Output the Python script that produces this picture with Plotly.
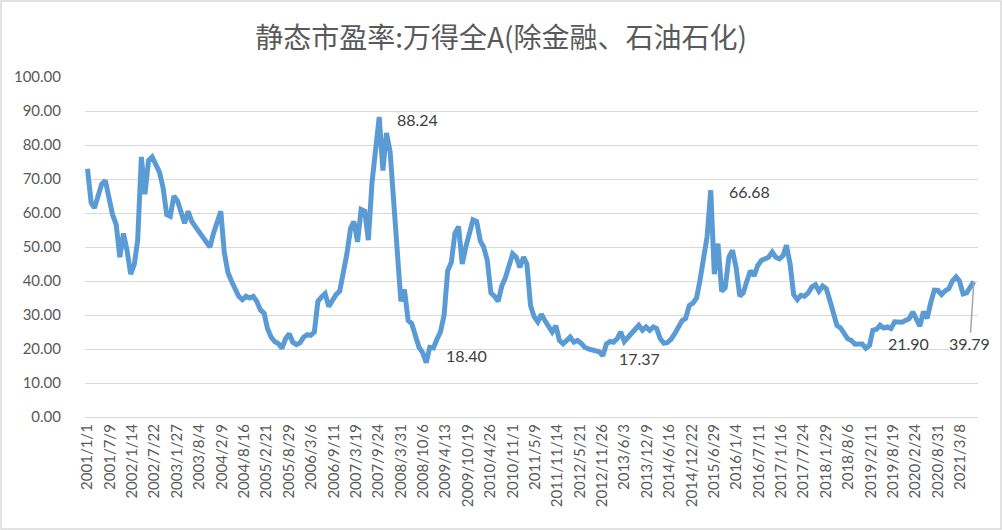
import pandas as pd
import plotly.graph_objects as go

title = "静态市盈率:万得全A(除金融、石油石化)"

# monthly readings of the weekly PE line (first of each month)
pe_2001 = [73, 63, 61.5, 65, 68.5, 69.5, 65, 59.5, 56.5, 47, 54, 49]
pe_2002 = [42, 45, 52, 76.5, 65.5, 75.5, 76.5, 74.5, 72, 67.5, 59.5, 59]
pe_2003 = [65, 63.5, 60, 57, 60.5, 57.5, 56, 54.5, 53.5, 52, 50, 54]
pe_2004 = [57.5, 60.5, 48.5, 42.5, 40, 37.5, 35.5, 34.5, 35.5, 35, 35.5, 34]
pe_2005 = [31.5, 30.5, 26, 23.5, 22.2, 21.6, 20.2, 23, 24.5, 22, 21.3, 21.8]
pe_2006 = [23.5, 24.2, 24, 25, 34, 35.3, 36.3, 32.5, 34.5, 36, 37, 42]
pe_2007 = [48, 55.5, 57.5, 51.5, 61, 60.5, 52, 69, 80, 88.24, 72.5, 83.5]
pe_2008 = [78, 63.5, 52, 34, 37.5, 28.4, 27.5, 24.5, 20.5, 19, 16, 20.5]
pe_2009 = [20.3, 23, 25, 30, 43, 45.5, 54, 56, 45, 50, 54, 58]
pe_2010 = [57.5, 51.7, 50, 46, 36.5, 35.5, 34, 38.5, 41, 44.5, 48, 47]
pe_2011 = [44, 47, 45, 32.8, 29.5, 28, 30.2, 28.3, 26.3, 25, 26.8, 22.5]
pe_2012 = [21.5, 22.5, 23.5, 22, 22.5, 21.7, 20.5, 20, 19.7, 19.6, 19.2, 18]
pe_2013 = [21.5, 22.2, 22, 23, 25, 22.2, 23.5, 25, 25.8, 27, 25.5, 26.5]
pe_2014 = [25.5, 26.5, 26, 23, 21.7, 21.9, 22.9, 24.5, 26.5, 28.3, 29, 32.8]
pe_2015 = [33.5, 35, 40, 48, 53, 66.68, 42, 51, 37, 38, 47, 49]
pe_2016 = [44, 35.5, 36.5, 40, 43, 41.5, 44.5, 46, 46.5, 47, 48.5, 47]
pe_2017 = [46.5, 47.5, 50.5, 45, 36, 34.5, 35.8, 35.5, 36.5, 38.2, 38.9, 37]
pe_2018 = [38.5, 37.7, 34.5, 30, 27, 26.2, 24.5, 23, 22.5, 21.4, 21.5, 21.5]
pe_2019 = [20.2, 21.1, 25.5, 25.8, 27, 26.2, 26.5, 26, 28, 28, 27.9, 28.4]
pe_2020 = [28.9, 30.9, 28.5, 26.7, 31, 29, 33.5, 37.3, 37.2, 36, 37.1, 37.7]
pe_2021 = [40, 41.2, 40, 36.2, 36.5, 38, 39.79]

tick_labels = [
    "2001/1/1", "2001/7/9", "2002/1/14", "2002/7/22", "2003/1/27", "2003/8/4",
    "2004/2/9", "2004/8/16", "2005/2/21", "2005/8/29", "2006/3/6", "2006/9/11",
    "2007/3/19", "2007/9/24", "2008/3/31", "2008/10/6", "2009/4/13", "2009/10/19",
    "2010/4/26", "2010/11/1", "2011/5/9", "2011/11/14", "2012/5/21", "2012/11/26",
    "2013/6/3", "2013/12/9", "2014/6/16", "2014/12/22", "2015/6/29", "2016/1/4",
    "2016/7/11", "2017/1/16", "2017/7/24", "2018/1/29", "2018/8/6", "2019/2/11",
    "2019/8/19", "2020/2/24", "2020/8/31", "2021/3/8",
]

pe = (pe_2001 + pe_2002 + pe_2003 + pe_2004 + pe_2005 + pe_2006 + pe_2007
      + pe_2008 + pe_2009 + pe_2010 + pe_2011 + pe_2012 + pe_2013 + pe_2014
      + pe_2015 + pe_2016 + pe_2017 + pe_2018 + pe_2019 + pe_2020 + pe_2021)
dates = pd.date_range("2001-01-01", periods=len(pe), freq="MS")
tick_vals = pd.to_datetime(tick_labels, format="%Y/%m/%d")

grey = "#595959"
grid = "#d9d9d9"

fig = go.Figure()
fig.add_trace(
    go.Scatter(
        x=dates,
        y=pe,
        mode="lines",
        line=dict(color="#5b9bd5", width=5),
        showlegend=False,
    )
)

# data labels as in the excel chart
labels = [
    ("88.24", "2008-08-15", 87.6),
    ("18.40", "2009-10-03", 18.1),
    ("17.37", "2013-10-09", 17.3),
    ("66.68", "2016-04-19", 66.2),
    ("21.90", "2019-12-29", 21.5),
]
for text, x, y in labels:
    fig.add_annotation(x=x, y=y, text=text, showarrow=False,
                       font=dict(family="Lato", size=16, color="#404040"))

fig.add_annotation(
    x=dates[-1], y=pe[-1], text="39.79",
    showarrow=True, arrowhead=0, arrowwidth=1.5, arrowcolor="#a6a6a6",
    ax=-4, ay=62, standoff=0,
    font=dict(family="Lato", size=16, color="#404040"),
)

fig.update_layout(
    width=1002,
    height=530,
    margin=dict(l=85, r=24, t=77, b=113),
    paper_bgcolor="white",
    plot_bgcolor="white",
    title=dict(
        text=title,
        x=0.5, xref="container", xanchor="center",
        y=1 - 38 / 530, yref="container", yanchor="middle",
        font=dict(family="Noto Sans CJK SC", size=28, color=grey),
    ),
    font=dict(family="Lato", size=15, color=grey),
)
fig.update_xaxes(
    type="date",
    range=["2000-12-11", "2021-08-05"],
    tickmode="array",
    tickvals=tick_vals,
    ticktext=tick_labels,
    tickangle=-90,
    showgrid=False,
    showline=True,
    linecolor=grid,
    linewidth=1.3,
    ticks="",
    tickfont=dict(family="Lato", size=15, color=grey),
)
fig.update_yaxes(
    range=[0, 100],
    dtick=10,
    tickformat=".2f",
    showgrid=True,
    gridcolor=grid,
    gridwidth=1.3,
    zeroline=False,
    ticks="",
    ticklabelstandoff=23,
    tickfont=dict(family="Lato", size=15, color=grey),
)

# chart area border
fig.add_shape(
    type="rect", xref="paper", yref="paper",
    x0=-84 / 893, x1=1 + 23 / 893, y0=-112 / 340, y1=1 + 76 / 340,
    line=dict(color=grid, width=1.5), fillcolor="rgba(0,0,0,0)", layer="below",
)

# drop the default 8px page margin so the chart sits at the window corner
fig.write_html(
    "out.html",
    config={"displayModeBar": False},
    post_script="document.body.style.margin='0';",
)
